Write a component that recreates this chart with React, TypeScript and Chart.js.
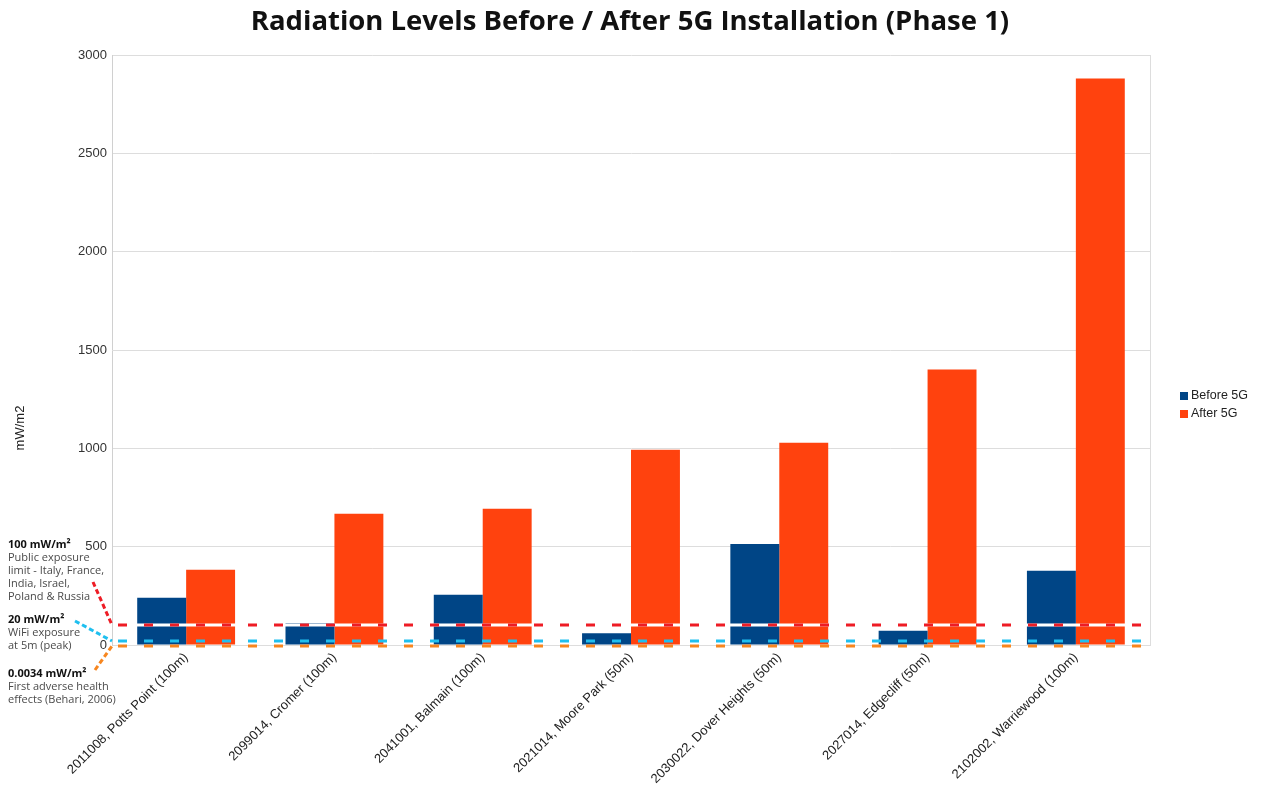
import React, { useEffect, useRef } from "react";
import { Chart, registerables } from "chart.js";

Chart.register(...registerables);

const categories = [
  "2011008, Potts Point (100m)",
  "2099014, Cromer (100m)",
  "2041001, Balmain (100m)",
  "2021014, Moore Park (50m)",
  "2030022, Dover Heights (50m)",
  "2027014, Edgecliff (50m)",
  "2102002, Warriewood (100m)",
];
const beforeValues = [240, 110, 255, 60, 513, 73, 378];
const afterValues = [382, 667, 693, 993, 1029, 1401, 2880];
const seriesLabels = ["Before 5G", "After 5G"];
const seriesColors = ["#004586", "#ff420e"];
const yAxisTitle = "mW/m2";
const chartTitle = "Radiation Levels Before / After 5G Installation (Phase 1)";

const refLevels = [100, 20, 0.0034];
const refColors = ["#ee1c25", "#1fbfef", "#f7861f"];
const refHeads = ["100 mW/m²", "20 mW/m²", "0.0034 mW/m²"];
const refNotes = [
  ["Public exposure", "limit - Italy, France,", "India, Israel,", "Poland & Russia"],
  ["WiFi exposure", "at 5m (peak)"],
  ["First adverse health", "effects (Behari, 2006)"],
];

// layout-only constants (annotation text placement and connector anchors)
const noteTops = [545, 620, 674];
const noteLineGap = 13;
const connectorAnchors = [
  [93, 582],
  [75, 621],
  [95, 670],
];

const annotationPlugin = {
  id: "annotations",
  afterDatasetsDraw(chart: any) {
    const { ctx, chartArea, scales } = chart;
    const y = scales.y;
    ctx.save();
    // right border of the plot area
    ctx.strokeStyle = "#dddddd";
    ctx.lineWidth = 1;
    ctx.beginPath();
    ctx.moveTo(chartArea.right + 0.5, chartArea.top);
    ctx.lineTo(chartArea.right + 0.5, chartArea.bottom);
    ctx.stroke();

    refLevels.forEach((lvl, i) => {
      const py = Math.round(y.getPixelForValue(lvl)) + (i === 2 ? 1 : 0);
      if (i === 0) {
        ctx.setLineDash([]);
        ctx.strokeStyle = "#ffffff";
        ctx.lineWidth = 3;
        ctx.beginPath();
        ctx.moveTo(chartArea.left + 1, py);
        ctx.lineTo(chartArea.right, py);
        ctx.stroke();
      }
      ctx.setLineDash([9, 17]);
      ctx.lineDashOffset = -6;
      ctx.strokeStyle = refColors[i];
      ctx.lineWidth = 3;
      ctx.beginPath();
      ctx.moveTo(chartArea.left, py);
      ctx.lineTo(chartArea.right, py);
      ctx.stroke();

      // connector
      ctx.setLineDash([5, 3]);
      ctx.lineDashOffset = 0;
      ctx.lineWidth = 3;
      ctx.beginPath();
      ctx.moveTo(connectorAnchors[i][0], connectorAnchors[i][1]);
      ctx.lineTo(chartArea.left, py);
      ctx.stroke();
    });
    ctx.setLineDash([]);

    // notes
    ctx.textAlign = "left";
    ctx.textBaseline = "middle";
    refHeads.forEach((h, i) => {
      ctx.fillStyle = "#111111";
      ctx.font = "bold 11px 'Open Sans'";
      ctx.fillText(h, 8, noteTops[i]);
      ctx.fillStyle = "#4a4a4a";
      ctx.font = "11px 'Open Sans'";
      refNotes[i].forEach((t, j) => {
        ctx.fillText(t, 8, noteTops[i] + noteLineGap * (j + 1));
      });
    });

    // y axis title
    ctx.save();
    ctx.translate(20, 428);
    ctx.rotate(-Math.PI / 2);
    ctx.textAlign = "center";
    ctx.textBaseline = "middle";
    ctx.fillStyle = "#222222";
    ctx.font = "13px 'Liberation Sans'";
    ctx.fillText(yAxisTitle, 0, 0);
    ctx.restore();

    // chart title (centred on the full canvas width)
    ctx.textAlign = "center";
    ctx.textBaseline = "middle";
    ctx.fillStyle = "#111111";
    ctx.font = "bold 27.5px 'Open Sans'";
    ctx.fillText(chartTitle, 630, 22);

    // legend
    chart.data.datasets.forEach((ds: any, i: number) => {
      const cy = 396 + i * 18;
      ctx.fillStyle = ds.backgroundColor;
      ctx.fillRect(1180, cy - 4, 8, 8);
      ctx.fillStyle = "#222222";
      ctx.font = "12.5px 'Liberation Sans'";
      ctx.textAlign = "left";
      ctx.textBaseline = "middle";
      ctx.fillText(ds.label, 1191, cy);
    });
    ctx.restore();
  },
};

export default function App() {
  const ref = useRef<HTMLCanvasElement | null>(null);
  useEffect(() => {
    if (!ref.current) return;
    const chart = new Chart(ref.current, {
      type: "bar",
      data: {
        labels: categories,
        datasets: [
          { label: seriesLabels[0], data: beforeValues, backgroundColor: seriesColors[0], barPercentage: 1, categoryPercentage: 0.66 },
          { label: seriesLabels[1], data: afterValues, backgroundColor: seriesColors[1], barPercentage: 1, categoryPercentage: 0.66 },
        ],
      },
      options: {
        responsive: false,
        animation: false,
        layout: { padding: { left: 0, right: 113, top: 55, bottom: 0 } },
        plugins: {
          legend: { display: false },
          tooltip: { enabled: false },
          title: { display: false },
        },
        scales: {
          x: {
            grid: { display: false, drawTicks: false },
            border: { display: true, color: "#dddddd" },
            ticks: {
              color: "#222222",
              font: { family: "'Liberation Sans'", size: 13 },
              minRotation: 45,
              maxRotation: 45,
              padding: 5,
            },
            afterFit: (scale: any) => {
              scale.height = 146;
            },
          },
          y: {
            min: 0,
            max: 3000,
            ticks: {
              stepSize: 500,
              color: "#333333",
              font: { family: "'Liberation Sans'", size: 13 },
              padding: 5,
              callback: (v: any) => String(v),
            },
            grid: { color: "#dddddd", drawTicks: false },
            border: { display: true, color: "#d0d0d0" },
            afterFit: (scale: any) => {
              scale.width = 112;
            },
          },
        },
      },
      plugins: [annotationPlugin],
    });
    return () => chart.destroy();
  }, []);
  return (
    <div style={{ position: "absolute", left: 0, top: 0, width: 1263, height: 791, background: "#fff" }}>
      <canvas ref={ref} width={1263} height={791} style={{ display: "block" }} />
    </div>
  );
}
